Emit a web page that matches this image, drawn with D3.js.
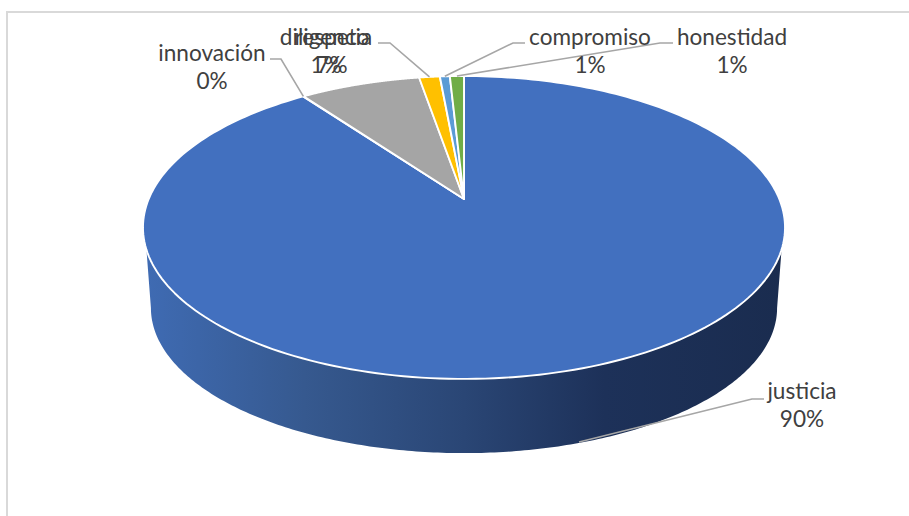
<!DOCTYPE html>
<html><head><meta charset="utf-8">
<script src="https://cdnjs.cloudflare.com/ajax/libs/d3/7.8.5/d3.min.js"></script>
<style>html,body{margin:0;padding:0;background:#fff;overflow:hidden}svg{display:block}
text{font-family:Lato,"Open Sans",sans-serif;font-size:22.6px;fill:#404040;text-anchor:middle}</style>
</head><body><div id="c"></div>
<script>
// Data (pie runs clockwise from 12 o'clock)
const categories = ["justicia","innovación","respeto","diligencia","compromiso","honestidad"];
const values     = [90, 0.03, 7.27, 1.25, 0.6, 0.85];
const percentLabels = ["90%","0%","7%","1%","1%","1%"];
const colors     = ["#4270bf","#ed7d31","#a5a5a5","#ffc000","#5b9bd5","#70ad47"];

const W = 909, H = 516;
const svg = d3.select("#c").append("svg").attr("width",W).attr("height",H);

// Layout: label centre + leader elbow for each category
const labelLayout = {
  "justicia":   {x:802,y:399,elbow:[752,399],end:[764,399],from:[579,442]},
  "innovación": {x:212,y:61, elbow:[281,59], end:[270,59]},
  "respeto":    {x:332,y:45},
  "diligencia": {x:326,y:45, elbow:[390,43], end:[378,43]},
  "compromiso": {x:590,y:45, elbow:[513,43], end:[525,43]},
  "honestidad": {x:732,y:45, elbow:[660,43], end:[673,43]}
};

// Perspective disc: unit circle projected to the page
const k = 0.188;
const sx = d3.scaleLinear().domain([-1,1]).range([464-315.3,464+315.3]);
const topY = d3.scaleLinear().domain([-1,1]).range([199-146.1,199+146.1]);
const botX = d3.scaleLinear().domain([-1,1]).range([464-307.5,464+307.5]);
const botY = d3.scaleLinear().domain([-1,1]).range([280.7-140,280.7+140]);
const proj = (a,X,Y)=>{ const u=Math.sin(a), v=-Math.cos(a), w=1-k*v; return [X(u/w),Y(v/w)]; };
const line = d3.line();

const pie = d3.pie().value(d=>d).sort(null)(values);

const sweep = (a0,a1,X,Y)=>d3.range(0,241).map(i=>proj(a0+(a1-a0)*i/240,X,Y));

// Gradient on the rim
const grad = svg.append("defs").append("linearGradient").attr("id","rim")
  .attr("gradientUnits","userSpaceOnUse").attr("x1",145).attr("x2",783).attr("y1",0).attr("y2",0);
[[0,"#3f6bb3"],[0.25,"#36598f"],[0.5,"#2a4675"],[0.72,"#1d3159"],[1,"#1a2c4f"]]
  .forEach(s=>grad.append("stop").attr("offset",s[0]).attr("stop-color",s[1]));

// Frame
svg.append("path").attr("d",line([[7,H],[7,12],[W,12]])).attr("fill","none").attr("stroke","#d9d9d9").attr("stroke-width",2);

// Rim: bottom disc's front edge closed against the top disc's front edge
const deg = Math.PI/180;
const rimTop = sweep(109*deg,251*deg,sx,topY);
const rimBot = sweep(100.8*deg,259.2*deg,botX,botY);
svg.append("path").attr("d",line(rimTop.concat(rimBot.reverse()))+"Z").attr("fill","url(#rim)");

// Top slices
svg.append("g").selectAll("path").data(pie).join("path")
  .attr("d",d=>line([[sx(0),topY(0)]].concat(sweep(d.startAngle,d.endAngle,sx,topY)))+"Z")
  .attr("fill",(d,i)=>colors[i]).attr("stroke","#fff").attr("stroke-width",1.9).attr("stroke-linejoin","round");

// Leader lines
const leaders = pie.map((d,i)=>({d,l:labelLayout[categories[i]]})).filter(o=>o.l.elbow);
svg.append("g").selectAll("path").data(leaders).join("path")
  .attr("d",o=>{
    const p = o.l.from || proj((o.d.startAngle+o.d.endAngle)/2,sx,topY);
    return line([p,o.l.elbow,o.l.end]);
  }).attr("fill","none").attr("stroke","#a6a6a6").attr("stroke-width",1.6);

// Labels
const g = svg.append("g").selectAll("g").data(categories).join("g")
  .attr("transform",c=>`translate(${labelLayout[c].x},${labelLayout[c].y})`);
g.append("text").attr("y",0).text(c=>c);
g.append("text").attr("y",28).text((c,i)=>percentLabels[i]);
</script></body></html>
